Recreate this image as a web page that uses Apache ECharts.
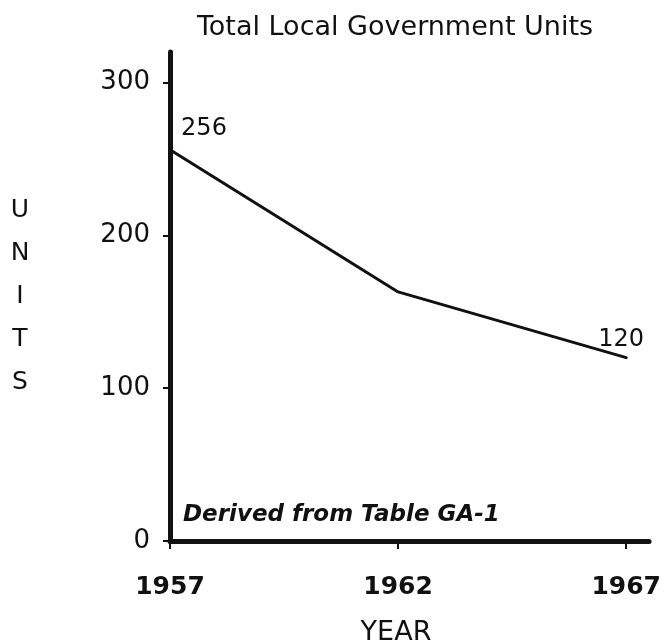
<!DOCTYPE html>
<html>
<head>
<meta charset="utf-8">
<script src="https://cdn.jsdelivr.net/npm/echarts@6/dist/echarts.min.js"></script>
<style>
  html, body { margin: 0; padding: 0; background: #fff; }
  #chart { width: 664px; height: 642px; }
</style>
</head>
<body>
<div id="chart"></div>
<script>
// Total local government units by census year
const years = [1957, 1962, 1967];
const units = [256, 163, 120];
const yTicks = [0, 100, 200, 300];
const labelledYears = [1957, 1967];

const ink = '#111';
const chart = echarts.init(document.getElementById('chart'), null, { renderer: 'canvas' });

chart.setOption({
  backgroundColor: '#fff',
  animation: false,
  title: [
    {
      text: 'Total Local Government Units',
      left: 390, top: 9, textAlign: 'center',
      textStyle: { fontFamily: 'DejaVu Sans', fontSize: 27, fontWeight: 'normal', color: ink }
    },
    {
      text: 'YEAR',
      left: 391, top: 614, textAlign: 'center',
      textStyle: { fontFamily: 'DejaVu Sans', fontSize: 27, fontWeight: 'normal', color: ink }
    }
  ],
  grid: { left: 170, right: 14, top: 52, bottom: 101 },
  xAxis: {
    type: 'value',
    min: 1957,
    max: 1967.5,
    axisLine: { show: true, lineStyle: { color: ink, width: 5, cap: 'round' } },
    axisTick: { show: true, customValues: years, length: 8, lineStyle: { color: ink, width: 2 } },
    axisLabel: {
      customValues: years,
      margin: 34,
      fontFamily: 'DejaVu Sans', fontSize: 25, fontWeight: 'bold', color: ink,
      formatter: v => String(v)
    },
    splitLine: { show: false }
  },
  yAxis: {
    type: 'value',
    min: 0,
    max: 320,
    name: 'U\nN\nI\nT\nS',
    nameLocation: 'middle',
    nameRotate: 0,
    nameGap: 150,
    nameTextStyle: { fontFamily: 'DejaVu Sans', fontSize: 25, lineHeight: 43, color: ink, align: 'center' },
    axisLine: { show: true, lineStyle: { color: ink, width: 5, cap: 'round' } },
    axisTick: { show: true, customValues: yTicks, length: 7, lineStyle: { color: ink, width: 2 } },
    axisLabel: {
      customValues: yTicks,
      margin: 20,
      fontFamily: 'DejaVu Sans', fontSize: 26, color: ink
    },
    splitLine: { show: false }
  },
  series: [{
    type: 'line',
    data: years.map((y, i) => [y, units[i]]),
    showSymbol: true,
    symbol: 'circle',
    symbolSize: 0,
    lineStyle: { color: ink, width: 3, cap: 'round', join: 'round' },
    itemStyle: { color: ink },
    label: {
      show: true,
      fontFamily: 'DejaVu Sans', fontSize: 24, color: ink,
      formatter: p => labelledYears.includes(p.value[0]) ? String(p.value[1]) : '',
      position: 'top',
      distance: 6
    },
    labelLayout: params => {
      if (params.dataIndex === 0) return { dx: 34, dy: -3 };
      return { dx: -5, dy: 0 };
    }
  }],
  graphic: [{
    type: 'text',
    left: 183, top: 504,
    style: {
      text: 'Derived from Table GA-1',
      font: 'italic bold 23px "DejaVu Sans"',
      fill: ink
    }
  }]
});
</script>
</body>
</html>
